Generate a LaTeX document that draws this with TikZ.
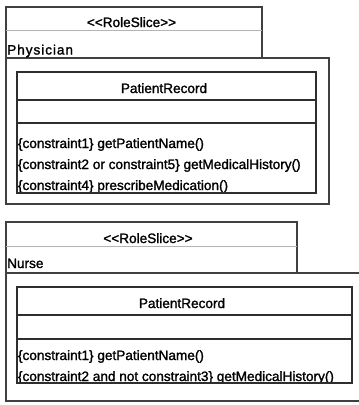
\documentclass[tikz,border=0pt]{standalone}
\usepackage{fontspec}
\setmainfont{Liberation Sans}[FakeBold=1.5]
\definecolor{frame}{HTML}{404040}
\definecolor{sep}{HTML}{B4B4B4}
\definecolor{cls}{HTML}{2E2E2E}
\begin{document}
\begin{tikzpicture}[x=1bp,y=-1bp,
  frameline/.style={draw=frame,line width=1.4bp},
  sepline/.style={draw=sep,line width=0.8bp},
  clsline/.style={draw=cls,line width=1.4bp},
  txt/.style={inner sep=0pt,font=\fontsize{13.6bp}{16bp}\selectfont,text=black},
  optxt/.style={txt,anchor=base west},
  ctxt/.style={txt,anchor=base}]
\useasboundingbox (0,0) rectangle (359,405);
\fill[white] (0,0) rectangle (359,405);
% ---------- Physician slice ----------
\draw[frameline] (6,58) rectangle (329,204);
\draw[frameline] (6,7) rectangle (262,58);
\draw[sepline] (6,30.5) -- (262,30.5);
\node[ctxt] (st1) at (131.5,27) {<\kern0pt<RoleSlice>\kern0pt>};
\node[optxt] (role1) at (7,54.5) {\addfontfeature{LetterSpace=7}Physician};
\draw[clsline] (17,72) rectangle (316,193);
\draw[clsline] (17,100) -- (316,100);
\draw[clsline] (17,123) -- (316,123);
\node[ctxt] (cn1) at (164,93) {PatientRecord};
\node[optxt] (op11) at (17.8,148) {\{constraint1\} getPatientName()};
\node[optxt] (op12) at (17.8,169) {\{constraint2 or constraint5\} getMedicalHistory()};
\node[optxt] (op13) at (17.8,190) {\{constraint4\} prescribeMedication()};
\draw[clsline] (17,193) -- (316,193);
% ---------- Nurse slice ----------
\draw[frameline] (6,273) rectangle (365,401);
\draw[frameline] (6,222) rectangle (297,273);
\draw[sepline] (6,246) -- (297,246);
\node[ctxt] (st2) at (148,243) {<\kern0pt<RoleSlice>\kern0pt>};
\node[optxt] (role2) at (7,268) {Nurse};
\draw[clsline] (17,287) rectangle (352,383);
\draw[clsline] (17,315) -- (352,315);
\draw[clsline] (17,339) -- (352,339);
\node[ctxt] (cn2) at (182,308) {PatientRecord};
\node[optxt] (op21) at (17.8,360) {\{constraint1\} getPatientName()};
\node[optxt] (op22) at (17.8,381) {\{constraint2 and not constraint3\} getMedicalHistory()};
\draw[clsline] (17,383) -- (352,383);
\end{tikzpicture}
\end{document}
